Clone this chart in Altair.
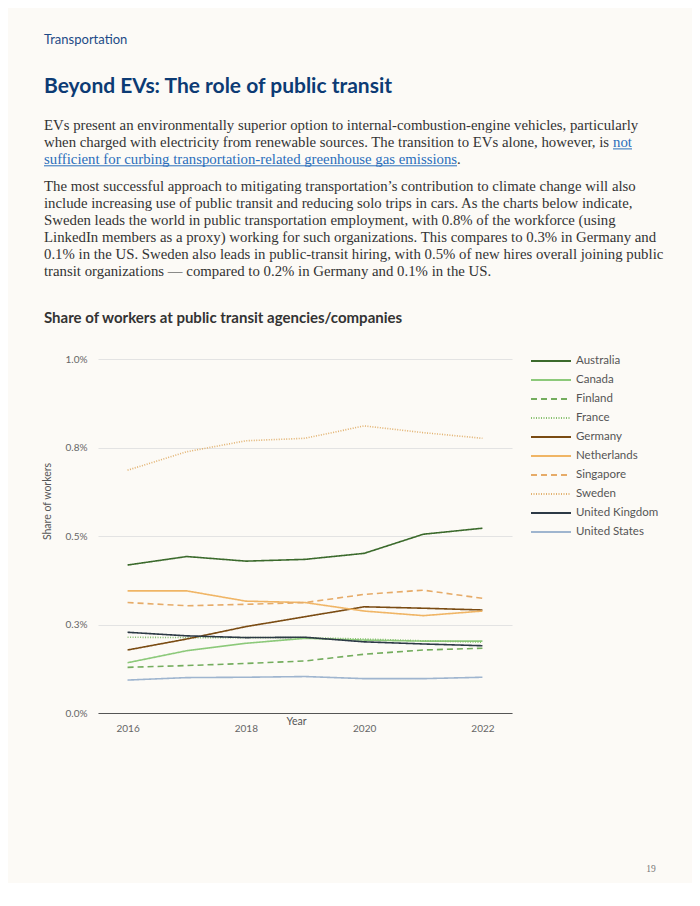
import altair as alt
import pandas as pd

years = [2016, 2017, 2018, 2019, 2020, 2021, 2022]
countries = ["Australia", "Canada", "Finland", "France", "Germany", "Netherlands",
             "Singapore", "Sweden", "United Kingdom", "United States"]
australia = [0.418, 0.442, 0.429, 0.434, 0.451, 0.505, 0.522]
canada = [0.142, 0.176, 0.197, 0.211, 0.206, 0.203, 0.203]
finland = [0.129, 0.134, 0.140, 0.147, 0.166, 0.178, 0.183]
france = [0.214, 0.213, 0.213, 0.213, 0.209, 0.204, 0.200]
germany = [0.178, 0.209, 0.244, 0.272, 0.300, 0.296, 0.291]
netherlands = [0.345, 0.345, 0.316, 0.312, 0.288, 0.275, 0.288]
singapore = [0.312, 0.303, 0.307, 0.312, 0.335, 0.347, 0.324]
sweden = [0.686, 0.738, 0.769, 0.776, 0.811, 0.792, 0.776]
united_kingdom = [0.228, 0.218, 0.213, 0.214, 0.201, 0.195, 0.190]
united_states = [0.093, 0.100, 0.101, 0.103, 0.097, 0.097, 0.101]
y_ticks = [0, 0.25, 0.5, 0.75, 1.0]
x_ticks = [2016, 2018, 2020, 2022]

series = [australia, canada, finland, france, germany, netherlands,
          singapore, sweden, united_kingdom, united_states]

section_label = "Transportation"
page_title = "Beyond EVs: The role of public transit"
para1 = [
    "EVs present an environmentally superior option to internal-combustion-engine vehicles, particularly",
    "when charged with electricity from renewable sources. The transition to EVs alone, however, is",
]
link_a = "not"
link_b = "sufficient for curbing transportation-related greenhouse gas emissions"
para2 = [
    "The most successful approach to mitigating transportation\u2019s contribution to climate change will also",
    "include increasing use of public transit and reducing solo trips in cars. As the charts below indicate,",
    "Sweden leads the world in public transportation employment, with 0.8% of the workforce (using",
    "LinkedIn members as a proxy) working for such organizations. This compares to 0.3% in Germany and",
    "0.1% in the US. Sweden also leads in public-transit hiring, with 0.5% of new hires overall joining public",
    "transit organizations \u2014 compared to 0.2% in Germany and 0.1% in the US.",
]
chart_title = "Share of workers at public transit agencies/companies"
page_number = "19"

rows = []
for c, vals in zip(countries, series):
    for yr, v in zip(years, vals):
        rows.append({"Year": yr, "Share": v, "Country": c})
df = pd.DataFrame(rows)

colors = ["#3b6a2c", "#8cc97a", "#74ad5e", "#86bf6e", "#7a4b12", "#f0b565",
          "#e6ab68", "#e2b270", "#2c3945", "#9fb5cf"]
dashes = [[1, 0], [1, 0], [6, 4], [1, 1.5], [1, 0], [1, 0], [6, 4], [1, 1.5], [1, 0], [1, 0]]

SANS = "Lato"
SERIF = "Liberation Serif"

legend = alt.Legend(title=None, orient="none", legendX=432, legendY=-7.3,
                    symbolType="stroke", symbolSize=1600, symbolStrokeWidth=2,
                    labelFont=SANS, labelFontSize=11.5, labelColor="#555555",
                    labelOffset=4, clipHeight=18.6, rowPadding=0, padding=0)

lines = alt.Chart(df).mark_line(strokeWidth=1.6).encode(
    x=alt.X("Year:Q",
            scale=alt.Scale(domain=[2015.5, 2022.5], nice=False, zero=False),
            axis=alt.Axis(values=x_ticks, format="d", title="Year", grid=False, ticks=False,
                          domainColor="#555555", domainWidth=1, labelPadding=10,
                          labelFont=SANS, labelFontSize=10, labelColor="#666666",
                          titleFont=SANS, titleFontSize=10.5, titleFontWeight="normal",
                          titleColor="#555555", titleX=198, titleY=8,
                          titleBaseline="middle", titleAlign="center")),
    y=alt.Y("Share:Q",
            scale=alt.Scale(domain=[0, 1], nice=False),
            axis=alt.Axis(values=y_ticks, labelExpr="format(datum.value, '.1f') + '%'",
                          title="Share of workers", domain=False, ticks=False,
                          gridColor="#e3e3e3", gridWidth=1, labelPadding=11,
                          labelFont=SANS, labelFontSize=10, labelColor="#666666",
                          titleFont=SANS, titleFontSize=10.5, titleFontWeight="normal",
                          titleColor="#555555", titleX=-51, titleY=142,
                          titleBaseline="middle", titleAlign="center", titleAngle=270)),
    color=alt.Color("Country:N", scale=alt.Scale(domain=countries, range=colors), legend=legend),
    strokeDash=alt.StrokeDash("Country:N", scale=alt.Scale(domain=countries, range=dashes), legend=legend),
)


def txt(s, x, y, size, color, font, weight="normal", align="left"):
    return alt.Chart(pd.DataFrame({"t": [s]})).mark_text(
        align=align, baseline="alphabetic", fontSize=size, color=color,
        font=font, fontWeight=weight).encode(
        x=alt.value(x), y=alt.value(y), text="t:N")


layers = [lines]
X0 = -54
FS = 14.8
layers.append(txt(section_label, X0, -315, 13, "#1d4a86", SANS))
layers.append(txt(page_title, X0, -266, 21, "#0c3b74", SANS, "bold"))
BODY = "#333333"
LINK = "#2a6ebb"
LS = 16.9
y = -229
for i, ln in enumerate(para1):
    layers.append(txt(ln, X0, y + i * LS, FS, BODY, SERIF))
layers.append(txt(link_a, 515, y + LS, FS, LINK, SERIF))
layers.append(txt(link_b, X0, y + 2 * LS, FS, LINK, SERIF))
layers.append(txt(".", 359, y + 2 * LS, FS, BODY, SERIF))
ul = pd.DataFrame({"a": [0]})
layers.append(alt.Chart(ul).mark_rule(color=LINK, strokeWidth=1).encode(
    x=alt.value(515), x2=alt.value(534), y=alt.value(y + LS + 2)))
layers.append(alt.Chart(ul).mark_rule(color=LINK, strokeWidth=1).encode(
    x=alt.value(X0), x2=alt.value(359), y=alt.value(y + 2 * LS + 2)))
y2 = -168
for i, ln in enumerate(para2):
    layers.append(txt(ln, X0, y2 + i * LS, FS, BODY, SERIF))
layers.append(txt(chart_title, X0, -36, 15, "#333333", SANS, "bold"))
layers.append(txt(page_number, 553, 513, 9.5, "#777777", SERIF, align="center"))

chart = alt.layer(*layers).properties(
    width=414, height=354,
    autosize=alt.AutoSizeParams(type="none"),
    padding={"left": 90, "top": 351, "right": 180, "bottom": 170},
    background="#fcfaf6",
).configure_view(stroke=None)

chart.save("out.html", embed_options={"renderer": "svg", "actions": False})
